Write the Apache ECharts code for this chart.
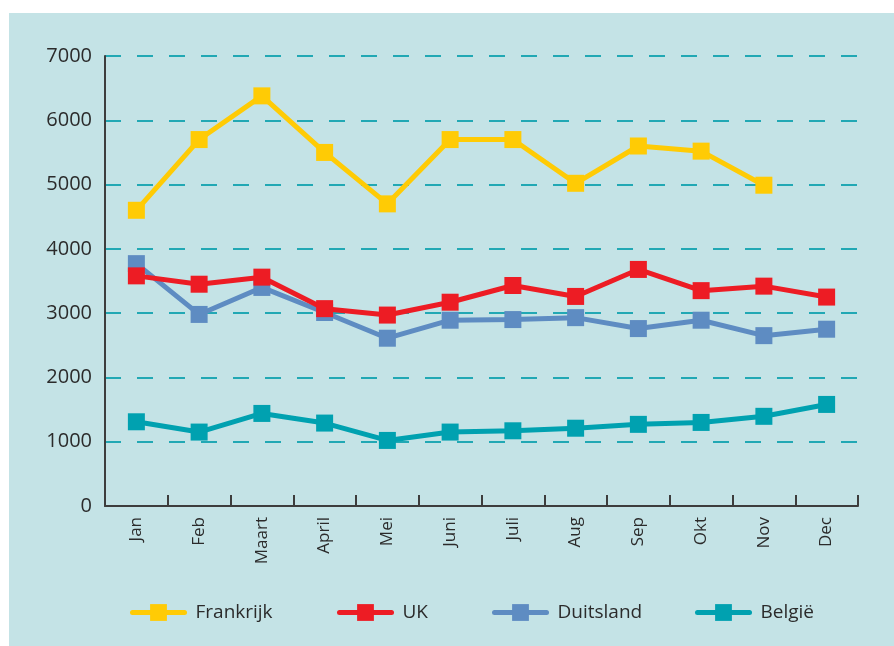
<!DOCTYPE html>
<html>
<head>
<meta charset="utf-8">
<script src="https://cdn.jsdelivr.net/npm/echarts@6/dist/echarts.min.js"></script>
<style>
  body { margin: 0; background: #fff; }
  #bg { position: absolute; left: 9px; top: 13px; width: 885px; height: 633px; background: #c4e3e6; }
  #main { position: absolute; left: 0; top: 0; width: 894px; height: 646px; }
</style>
</head>
<body>
<div id="bg"></div>
<div id="main"></div>
<script>
// maanden
var months = ['Jan', 'Feb', 'Maart', 'April', 'Mei', 'Juni', 'Juli', 'Aug', 'Sep', 'Okt', 'Nov', 'Dec'];

// waarden per land
var frankrijk = [4600, 5700, 6380, 5500, 4700, 5700, 5700, 5020, 5600, 5520, 4990, null];
var uk = [3580, 3450, 3560, 3070, 2970, 3170, 3430, 3260, 3680, 3350, 3420, 3250];
var duitsland = [3770, 2980, 3400, 3010, 2610, 2890, 2900, 2930, 2760, 2890, 2650, 2750];
var belgie = [1310, 1150, 1440, 1290, 1020, 1150, 1170, 1210, 1270, 1300, 1395, 1580];

var font = 'Open Sans';
var textColor = '#2b2b2b';

function lineSeries(name, data, color, z) {
    return {
        name: name,
        type: 'line',
        data: data,
        z: z,
        symbol: 'rect',
        symbolSize: 17,
        lineStyle: { width: 5, color: color },
        itemStyle: { color: color },
        emphasis: { disabled: true }
    };
}

// een legenda per item zodat de posities kloppen
function legendItem(name, left) {
    return {
        data: [name],
        left: left,
        top: 598,
        itemWidth: 52,
        itemHeight: 21,
        lineStyle: { width: 5, cap: 'round' },
        textStyle: { fontFamily: font, fontSize: 19, color: textColor, padding: [0, 0, 0, 6] }
    };
}

var myChart = echarts.init(document.getElementById('main'));
var option = {
    backgroundColor: 'transparent',
    animation: false,
    legend: [
        legendItem('Frankrijk', 125),
        legendItem('UK', 332),
        legendItem('Duitsland', 487),
        legendItem('België', 690)
    ],
    grid: { left: 105, right: 36, top: 56, bottom: 140 },
    xAxis: {
        type: 'category',
        data: months,
        boundaryGap: true,
        axisLine: { lineStyle: { color: '#3d3d3d', width: 2 } },
        axisTick: { show: true, inside: true, length: 11, interval: 0, lineStyle: { color: '#3d3d3d', width: 2 } },
        axisLabel: { rotate: 90, interval: 0, margin: 11, fontFamily: font, fontSize: 17, color: textColor },
        splitLine: { show: false }
    },
    yAxis: {
        type: 'value',
        min: 0,
        max: 7000,
        interval: 1000,
        axisLine: { show: true, lineStyle: { color: '#3d3d3d', width: 2 } },
        axisTick: { show: false },
        axisLabel: {
            margin: 13, fontFamily: font, fontSize: 20, color: textColor,
            formatter: function (v) { return String(v); }
        },
        splitLine: { lineStyle: { type: [16, 16], color: '#22a8b4', width: 2 } }
    },
    series: [
        lineSeries('Frankrijk', frankrijk, '#ffcb05', 2),
        lineSeries('UK', uk, '#ed1c24', 4),
        lineSeries('Duitsland', duitsland, '#5e8cc2', 3),
        lineSeries('België', belgie, '#00a1b0', 2)
    ]
};
myChart.setOption(option);
</script>
</body>
</html>
